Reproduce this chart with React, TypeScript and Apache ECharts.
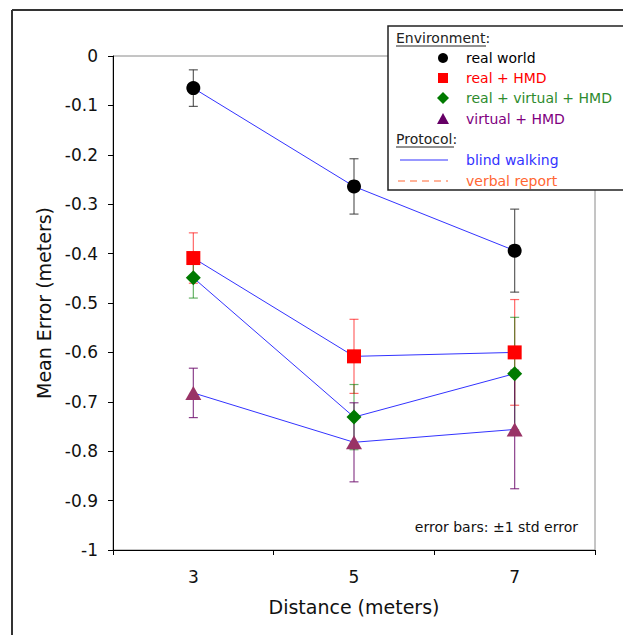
import React, { useEffect, useRef } from "react";
import * as echarts from "echarts";

const categories = ["3", "5", "7"];
const yTicks = { min: -1, max: 0, interval: 0.1 };

const realWorld = [-0.065, -0.264, -0.394];
const realWorldErr = [0.037, 0.056, 0.084];
const realHMD = [-0.409, -0.608, -0.6];
const realHMDErr = [0.051, 0.075, 0.107];
const realVirtualHMD = [-0.449, -0.731, -0.643];
const realVirtualHMDErr = [0.041, 0.066, 0.114];
const virtualHMD = [-0.682, -0.782, -0.756];
const virtualHMDErr = [0.05, 0.08, 0.12];

const FONT = "DejaVu Sans";

function errorSeries(name: string, mean: number[], err: number[], color: string, opacity: number) {
  return {
    type: "custom",
    name: name + " err",
    z: 2,
    silent: true,
    data: mean.map((m, i) => [i, m, err[i]]),
    encode: { x: 0, y: 1 },
    renderItem: (params: any, api: any) => {
      const x = api.value(0);
      const m = api.value(1);
      const e = api.value(2);
      const hi = api.coord([x, m + e]);
      const lo = api.coord([x, m - e]);
      const cap = 4.5;
      const style = { stroke: color, lineWidth: 1.2, opacity };
      return {
        type: "group",
        children: [
          { type: "line", shape: { x1: hi[0], y1: hi[1], x2: lo[0], y2: lo[1] }, style },
          { type: "line", shape: { x1: hi[0] - cap, y1: hi[1], x2: hi[0] + cap, y2: hi[1] }, style },
          { type: "line", shape: { x1: lo[0] - cap, y1: lo[1], x2: lo[0] + cap, y2: lo[1] }, style },
        ],
      };
    },
  };
}

function lineSeries(name: string, data: number[], symbol: string, size: any, color: string) {
  return {
    type: "line",
    name,
    z: 5,
    data,
    symbol,
    symbolSize: size,
    showAllSymbol: true,
    lineStyle: { color: "#3333ff", width: 1 },
    itemStyle: { color, opacity: 1 },
  };
}

export default function App() {
  const ref = useRef<HTMLDivElement>(null);
  useEffect(() => {
    if (!ref.current) return;
    const chart = echarts.init(ref.current, undefined, { renderer: "svg" });
    const txt = (text: string, x: number, y: number, fill: string, extra: any = {}) => ({
      type: "text",
      x,
      y,
      style: { text, fill, font: `14px "${FONT}"`, textVerticalAlign: "middle", ...extra },
    });
    const legendX = 443;
    const textX = 466;
    chart.setOption({
      animation: false,
      backgroundColor: "#fff",
      textStyle: { fontFamily: FONT },
      grid: {
        left: 113,
        right: 28,
        top: 56,
        bottom: 85,
        show: true,
        borderColor: "#8a8a8a",
        borderWidth: 1,
        backgroundColor: "transparent",
      },
      xAxis: {
        type: "category",
        data: categories,
        boundaryGap: true,
        name: "Distance (meters)",
        nameLocation: "middle",
        nameGap: 47,
        nameTextStyle: { fontSize: 19, color: "#111", fontFamily: FONT },
        axisLine: { show: true, onZero: false, lineStyle: { color: "#000", width: 1 } },
        axisTick: { show: true, length: 5, alignWithLabel: false, lineStyle: { color: "#000" } },
        axisLabel: { fontSize: 17, color: "#111", margin: 18, fontFamily: FONT },
        splitLine: { show: false },
      },
      yAxis: {
        type: "value",
        min: yTicks.min,
        max: yTicks.max,
        interval: yTicks.interval,
        name: "Mean Error (meters)",
        nameLocation: "middle",
        nameGap: 56,
        nameTextStyle: { fontSize: 19, color: "#111", fontFamily: FONT },
        axisLine: { show: true, lineStyle: { color: "#000", width: 1 } },
        axisTick: { show: true, length: 5, lineStyle: { color: "#000" } },
        axisLabel: { fontSize: 17, color: "#111", margin: 15, fontFamily: FONT },
        splitLine: { show: false },
      },
      series: [
        errorSeries("real world", realWorld, realWorldErr, "#333333", 0.8),
        errorSeries("real + HMD", realHMD, realHMDErr, "#ff0000", 0.6),
        errorSeries("real + virtual + HMD", realVirtualHMD, realVirtualHMDErr, "#008000", 0.6),
        errorSeries("virtual + HMD", virtualHMD, virtualHMDErr, "#660066", 0.75),
        lineSeries("real world", realWorld, "circle", 14, "#000000"),
        lineSeries("real + HMD", realHMD, "rect", 14, "#ff0000"),
        lineSeries("real + virtual + HMD", realVirtualHMD, "diamond", 15, "#007a00"),
        lineSeries("virtual + HMD", virtualHMD, "triangle", [16, 14], "#993366"),
      ],
      graphic: [
        { type: "line", shape: { x1: 12, y1: 10, x2: 12, y2: 635 }, style: { stroke: "#333", lineWidth: 2 }, z: 100 },
        { type: "line", shape: { x1: 12, y1: 10, x2: 623, y2: 10 }, style: { stroke: "#333", lineWidth: 2 }, z: 100 },
        {
          type: "text",
          right: 623 - 578,
          top: 520,
          style: { text: "error bars: \u00b11 std error", fill: "#111", font: `14px "${FONT}"` },
          z: 100,
        },
        {
          type: "group",
          z: 100,
          children: [
            { type: "rect", shape: { x: 388, y: 26, width: 250, height: 164 }, style: { fill: "#fff", stroke: "#222", lineWidth: 1.5 } },
            txt("Environment:", 396, 38, "#222"),
            { type: "line", shape: { x1: 396, y1: 46, x2: 486, y2: 46 }, style: { stroke: "#222", lineWidth: 1 } },
            { type: "circle", shape: { cx: legendX, cy: 58, r: 5 }, style: { fill: "#000" } },
            txt("real world", textX, 58, "#000"),
            { type: "rect", shape: { x: legendX - 5, y: 73, width: 10, height: 10 }, style: { fill: "#ff0000" } },
            txt("real + HMD", textX, 78, "#ff0000"),
            { type: "polygon", shape: { points: [[legendX, 92], [legendX + 6, 98], [legendX, 104], [legendX - 6, 98]] }, style: { fill: "#007a00" } },
            txt("real + virtual + HMD", textX, 98, "#2e8b2e"),
            { type: "polygon", shape: { points: [[legendX, 113], [legendX + 6, 124], [legendX - 6, 124]] }, style: { fill: "#660066" } },
            txt("virtual + HMD", textX, 119, "#800080"),
            txt("Protocol:", 396, 139, "#222"),
            { type: "line", shape: { x1: 396, y1: 147, x2: 454, y2: 147 }, style: { stroke: "#222", lineWidth: 1 } },
            { type: "line", shape: { x1: 400, y1: 160, x2: 448, y2: 160 }, style: { stroke: "#3333ff", lineWidth: 1.2 } },
            txt("blind walking", textX, 160, "#3333ff"),
            { type: "line", shape: { x1: 398, y1: 181, x2: 448, y2: 181 }, style: { stroke: "#ff6633", lineWidth: 1.2, lineDash: [7, 5] } },
            txt("verbal report", textX, 181, "#ff6633"),
          ],
        },
      ],
    });
    return () => chart.dispose();
  }, []);
  return <div ref={ref} style={{ width: 623, height: 635, position: "absolute", left: 0, top: 0 }} />;
}
